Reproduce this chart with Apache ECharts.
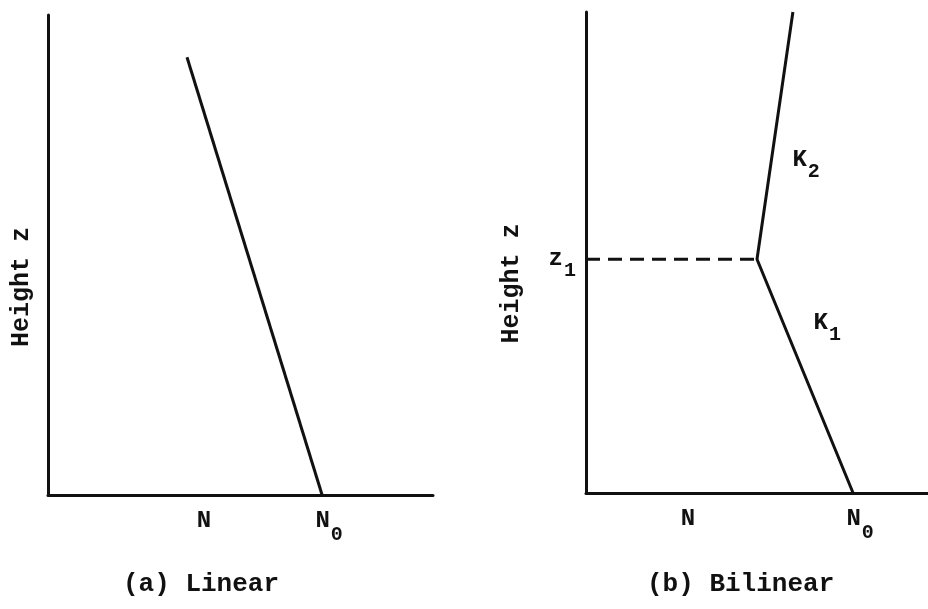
<!DOCTYPE html>
<html>
<head>
<meta charset="utf-8">
<script src="https://cdn.jsdelivr.net/npm/echarts@6/dist/echarts.min.js"></script>
<style>html,body{margin:0;padding:0;background:#fff;}#c{width:928px;height:609px;}</style>
</head>
<body>
<div id="c"></div>
<script>
// ---- data (x: refractivity N, 0-100 scale; z: height, 0-100 scale) ----
const linearN = [36.1, 71.2];
const linearZ = [91.2, 0];
const bilinearN = [78.1, 50.0, 60.5];
const bilinearZ = [0, 48.6, 100];
const z1Value = 48.6;
const tickLabelsX = ['N', 'N0'];
const tickPosA = [40.5, 71.2];
const tickPosB = [29.8, 78.1];
const slopeLabels = ['K2', 'K1'];
const slopeLabelN = [60.2, 66.4];
const slopeLabelZ = [69.2, 35.3];
const panelTitles = ['(a) Linear', '(b) Bilinear'];
const axisName = 'Height z';

const FONT = '"Liberation Mono", "DejaVu Sans Mono", monospace';
const INK = '#111';

function subText(s, lead, sub) {
  // 'N0' -> 'N{sub|0}', 'K2' -> 'K{sub|2}'
  const head = lead ? '{' + lead + '|' + s[0] + '}' : s[0];
  return s.length > 1 ? head + '{' + (sub || 'sub') + '|' + s.slice(1) + '}' : s;
}
const rich = {
  sub: { fontFamily: FONT, fontWeight: 'bold', fontSize: 20, color: INK, padding: [24, 0, 0, 1] },
  subx: { fontFamily: FONT, fontWeight: 'bold', fontSize: 20, color: INK, padding: [16, 0, 0, 1] },
  lead: { fontFamily: FONT, fontWeight: 'bold', fontSize: 24, color: INK, padding: [0, 0, 0, 14], verticalAlign: 'top' }
};

function xAxisFor(gi, ticks) {
  return {
    gridIndex: gi, type: 'value', min: 0, max: 100,
    axisLine: { show: true, onZero: false, lineStyle: { color: INK, width: 3 } },
    axisTick: { show: false },
    splitLine: { show: false },
    axisLabel: {
      show: true, customValues: ticks, margin: 14,
      fontFamily: FONT, fontWeight: 'bold', fontSize: 24, color: INK,
      verticalAlign: 'top',
      formatter: function (v) {
        const i = ticks.indexOf(v);
        return i >= 0 ? subText(tickLabelsX[i], 'lead', 'subx') : '';
      },
      rich: rich
    }
  };
}

function yAxisFor(gi, gap, shift, custom) {
  return {
    gridIndex: gi, type: 'value', min: 0, max: 100,
    name: axisName, nameLocation: 'middle', nameRotate: 90, nameGap: gap,
    nameTextStyle: { fontFamily: FONT, fontWeight: 'bold', fontSize: 25, color: INK, padding: [0, shift, 0, 0] },
    axisLine: { show: true, onZero: false, lineStyle: { color: INK, width: 3 } },
    axisTick: { show: false },
    splitLine: { show: false },
    axisLabel: custom ? {
      show: true, customValues: custom, margin: 10,
      fontFamily: FONT, fontWeight: 'bold', fontSize: 24, color: INK,
      formatter: function () { return 'z{sub|1}'; },
      rich: rich
    } : { show: false }
  };
}

const chart = echarts.init(document.getElementById('c'), null, { renderer: 'canvas' });
chart.setOption({
  animation: false,
  backgroundColor: '#fff',
  title: [
    { text: panelTitles[0], left: 118, top: 566, textStyle: { fontFamily: FONT, fontWeight: 'bold', fontSize: 26, color: INK } },
    { text: panelTitles[1], left: 642, top: 566, textStyle: { fontFamily: FONT, fontWeight: 'bold', fontSize: 26, color: INK } }
  ],
  grid: [
    { left: 48, right: 495, top: 15, bottom: 114 },
    { left: 586, right: 0, top: 12, bottom: 116 }
  ],
  xAxis: [xAxisFor(0, tickPosA), xAxisFor(1, tickPosB)],
  yAxis: [yAxisFor(0, 14, 64, null), yAxisFor(1, 62, 62, [z1Value])],
  series: [
    {
      type: 'line', xAxisIndex: 0, yAxisIndex: 0, symbol: 'none',
      lineStyle: { color: INK, width: 3 },
      data: linearN.map((n, i) => [n, linearZ[i]])
    },
    {
      type: 'line', xAxisIndex: 1, yAxisIndex: 1, symbol: 'none', clip: false,
      lineStyle: { color: INK, width: 3 },
      data: bilinearN.map((n, i) => [n, bilinearZ[i]])
    },
    {
      type: 'line', xAxisIndex: 1, yAxisIndex: 1, symbol: 'none',
      lineStyle: { color: INK, width: 3, type: [14, 8] },
      data: [[0, z1Value], [bilinearN[1], z1Value]]
    },
    {
      type: 'scatter', xAxisIndex: 1, yAxisIndex: 1, symbolSize: 1,
      itemStyle: { color: 'rgba(0,0,0,0)' },
      label: {
        show: true, position: 'right', distance: 0,
        fontFamily: FONT, fontWeight: 'bold', fontSize: 24, color: INK, opacity: 1,
        formatter: function (p) { return subText(p.name); },
        rich: rich
      },
      data: slopeLabels.map((s, i) => ({ name: s, value: [slopeLabelN[i], slopeLabelZ[i]] }))
    }
  ]
});
</script>
</body>
</html>
